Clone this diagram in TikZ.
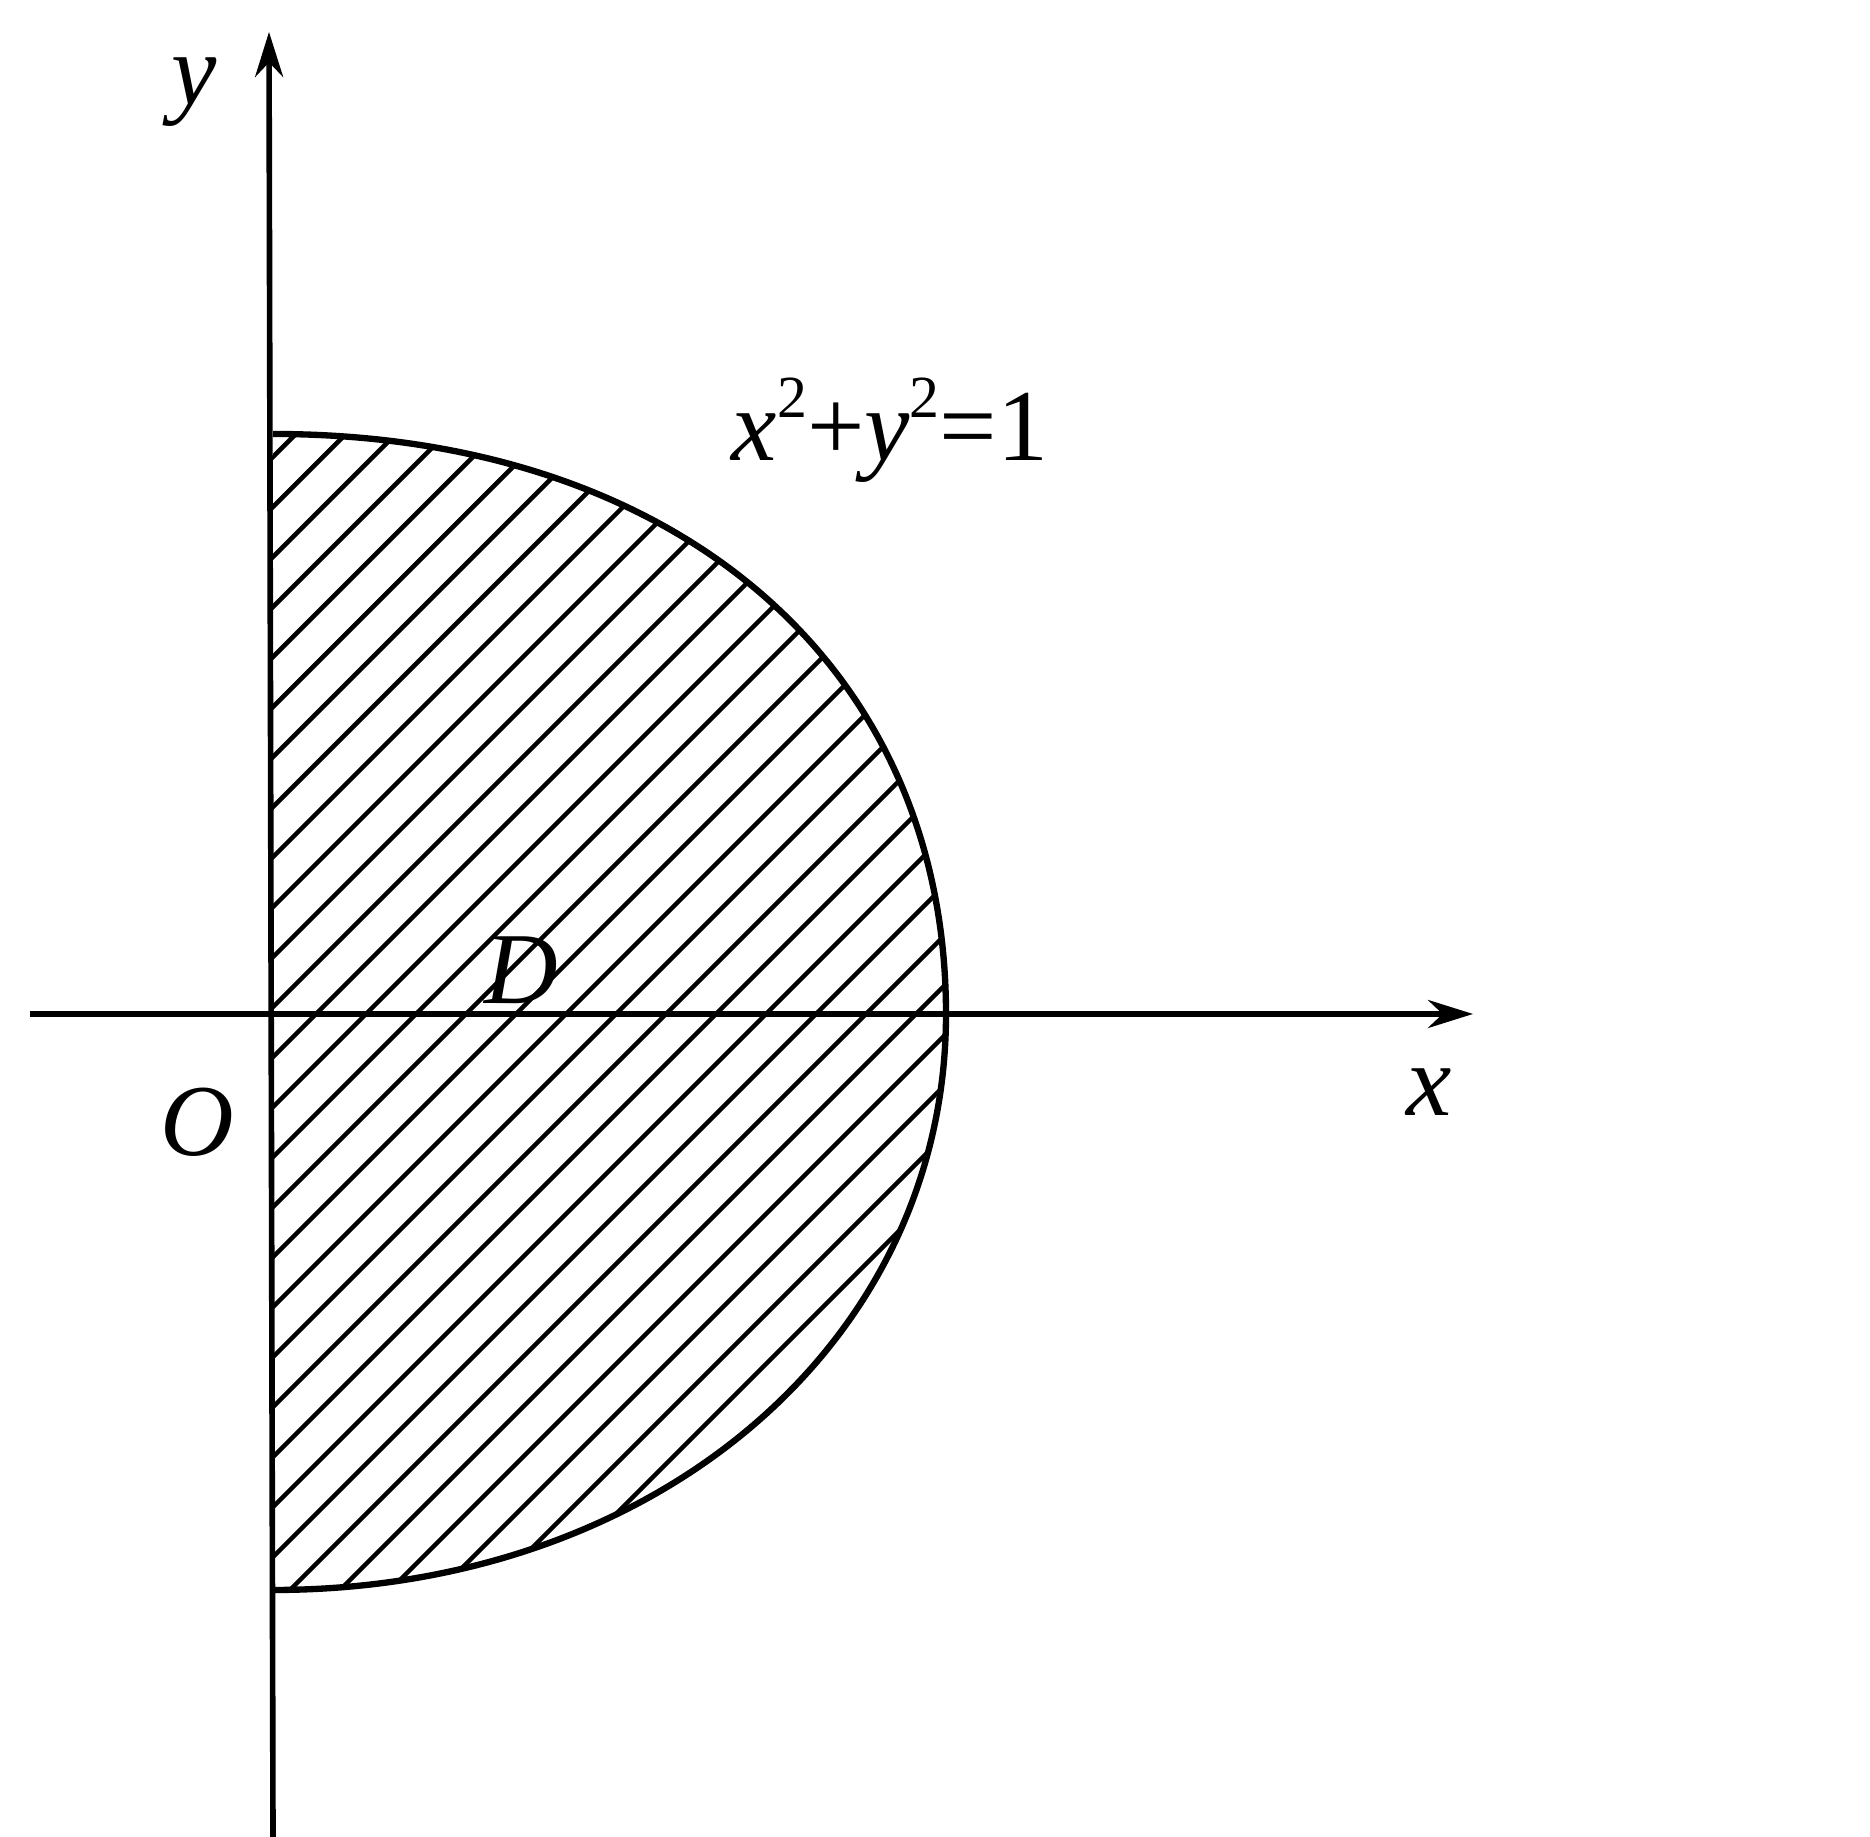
\documentclass[tikz,border=0pt]{standalone}
\usepackage{fontspec}
\setmainfont{Liberation Serif}
\usetikzlibrary{arrows.meta}

\newcommand{\sqr}{\raisebox{0.42em}{\fontsize{17}{17}\selectfont 2}}

\begin{document}
\begin{tikzpicture}[
    axis/.style={line width=1.6pt, -{Stealth[length=4.5mm, width=2.8mm]}},
    rim/.style={line width=1.8pt},
    hatch/.style={line width=1.3pt},
    lab/.style={font=\fontsize{29}{34}\selectfont\itshape, inner sep=0pt}
]
    \useasboundingbox (-2.73,-8.23) rectangle (15.97,10.14);

    % Region D
    \begin{scope}
        \clip (0,5.80) .. controls (4.04,5.80) and (6.73,3.48) .. (6.73,0)
                       .. controls (6.73,-3.28) and (3.84,-5.76) .. (0,-5.76) -- cycle;
        \foreach \k in {-26,...,12}
            \draw[hatch] (-1,{0.07+0.5*\k-1}) -- (8,{0.07+0.5*\k+8});
    \end{scope}
    \draw[rim] (0,5.80) .. controls (4.04,5.80) and (6.73,3.48) .. (6.73,0)
               .. controls (6.73,-3.28) and (3.84,-5.76) .. (0,-5.76);

    % Axes
    \coordinate (xs) at (-2.43,0);
    \coordinate (xe) at (12.0,0);
    \coordinate (ys) at (0,-8.23);
    \coordinate (ye) at (-0.04,9.82);
    \draw[axis] (xs) -- (xe);
    \draw[axis] (ys) -- (ye);

    % Labels
    \node[lab] (ylab) at (-0.79,9.22) {y};
    \node[lab] (olab) at (-0.76,-1.08) {O};
    \node[lab] (xlab) at (11.56,-0.78) {x};
    \node[lab] (dlab) at (2.48,0.44) {D};
    \node[lab, font=\fontsize{29}{34}\selectfont] (eq) at (6.17,5.84)
        {\textit{x}\sqr+\textit{y}\sqr=1};
\end{tikzpicture}
\end{document}
